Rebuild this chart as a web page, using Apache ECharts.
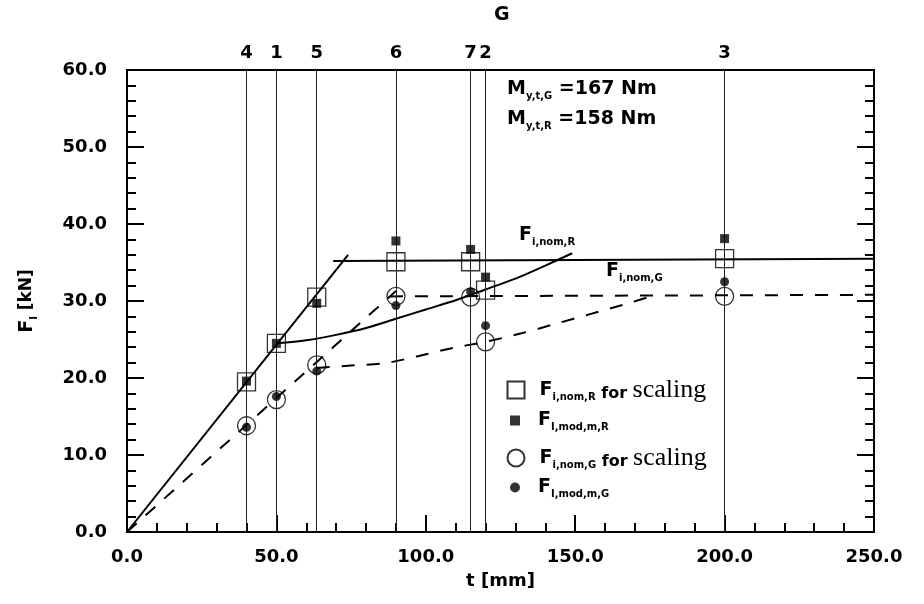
<!DOCTYPE html>
<html>
<head>
<meta charset="utf-8">
<title>F_I vs t</title>
<script src="https://cdn.jsdelivr.net/npm/echarts@6/dist/echarts.min.js"></script>
<style>
  html, body { margin: 0; padding: 0; background: #fff; }
  #chart { width: 924px; height: 604px; }
</style>
</head>
<body>
<div id="chart"></div>
<script>
// measuring positions G (vertical lines) and their labels
const tPos = [40, 50, 63.5, 90, 115, 120, 200];
const tNames = ["4", "1", "5", "6", "7", "2", "3"];

// point values at each position [kN]
const nomR = [19.5, 24.5, 30.5, 35.1, 35.1, 31.4, 35.5];
const modR = [19.6, 24.5, 29.7, 37.8, 36.7, 33.1, 38.1];
const nomG = [13.8, 17.2, 21.7, 30.6, 30.5, 24.7, 30.6];
const modG = [13.6, 17.6, 20.9, 29.4, 31.2, 26.8, 32.5];

// curves [t, F]
const lineRrise = [[0, 0], [74, 36.0]];
const lineRflat = [[69, 35.2], [250, 35.5]];
const lineRbend = [[50, 24.5], [60, 24.9], [70, 25.6], [80, 26.5], [90, 27.7], [100, 28.9],
  [110, 30.1], [120, 31.5], [130, 32.9], [140, 34.6], [149, 36.2]];
const lineGrise = [[0, 0], [90, 31.3]];
const lineGflat = [[88, 30.6], [250, 30.8]];
const lineGbend = [[63.5, 21.3], [74, 21.6], [86, 21.9], [97, 22.8], [109, 23.9], [120, 24.7],
  [132, 25.8], [144, 27.1], [155, 28.3], [166, 29.5], [177, 30.8]];

const SANS = "DejaVu Sans";
const rich = {
  f: { fontFamily: SANS, fontSize: 19, fontWeight: "bold", lineHeight: 24, color: "#000" },
  s: { fontFamily: SANS, fontSize: 10, fontWeight: "bold", lineHeight: 12, verticalAlign: "bottom", color: "#000" },
  w: { fontFamily: SANS, fontSize: 17, fontWeight: "bold", lineHeight: 24, color: "#000" },
  fw: { fontFamily: SANS, fontSize: 16, fontWeight: "bold", lineHeight: 20, verticalAlign: "bottom", color: "#000" },
  sc: { fontFamily: "Liberation Serif", fontSize: 26, lineHeight: 24, color: "#000" },
  g1: { width: 10 },
  g2: { width: 13 },
};

const legendText = {
  nomR: "{g1| }{f|F}{s|i,nom,R}{fw| for }{sc|scaling}",
  modR: "{g2| }{f|F}{s|I,mod,m,R}",
  nomG: "{g1| }{f|F}{s|i,nom,G}{fw| for }{sc|scaling}",
  modG: "{g2| }{f|F}{s|I,mod,m,G}",
};
const legendKeys = ["nomR", "modR", "nomG", "modG"];
const legendSize = [17, 10, 17, 10];
const legendRowY = [389, 423, 457, 490];

function pairs(vals) {
  return tPos.map((t, i) => [t, vals[i]]);
}

function lineSeries(data, dashed, smooth) {
  return {
    type: "line",
    data: data,
    showSymbol: false,
    smooth: smooth ? 0.3 : false,
    silent: true,
    lineStyle: { color: "#000", width: 2, type: dashed ? [13, 12] : "solid" },
    z: 3,
  };
}

const tickFont = { fontFamily: SANS, fontSize: 18, fontWeight: "bold", color: "#000" };

const chart = echarts.init(document.getElementById("chart"));
chart.setOption({
  animation: false,
  backgroundColor: "#fff",
  grid: {
    left: 127, right: 50, top: 70, bottom: 72,
    show: true, borderColor: "#000", borderWidth: 2,
    outerBoundsMode: "none",
  },
  legend: legendKeys.map((k, i) => ({
    data: [k],
    orient: "vertical",
    left: 515 - legendSize[i] / 2,
    top: legendRowY[i] - 12,
    itemWidth: legendSize[i],
    itemHeight: legendSize[i],
    selectedMode: false,
    padding: 0,
    formatter: (name) => legendText[name],
    textStyle: { rich: rich },
  })),
  xAxis: {
    type: "value",
    min: 0, max: 250, interval: 50,
    name: "t [mm]",
    nameLocation: "middle",
    nameGap: 40,
    nameTextStyle: { fontFamily: SANS, fontSize: 18, fontWeight: "bold", color: "#000" },
    axisLine: { show: false },
    axisTick: { inside: true, length: 17, lineStyle: { color: "#000", width: 2 } },
    minorTick: { show: true, splitNumber: 5, length: 9, lineStyle: { color: "#000", width: 2 } },
    splitLine: { show: false },
    axisLabel: Object.assign({ margin: 16, formatter: (v) => v.toFixed(1) }, tickFont),
  },
  yAxis: [
    {
      type: "value",
      min: 0, max: 60, interval: 10,
      name: "{f|F}{s|I}{w| [kN]}",
      nameLocation: "middle",
      nameGap: 88,
      nameTextStyle: { rich: rich },
      axisLine: { show: false },
      axisTick: { inside: true, length: 17, lineStyle: { color: "#000", width: 2 } },
      minorTick: { show: true, splitNumber: 5, length: 9, lineStyle: { color: "#000", width: 2 } },
      splitLine: { show: false },
      axisLabel: Object.assign({ margin: 20, formatter: (v) => v.toFixed(1) }, tickFont),
    },
    {
      type: "value",
      position: "right",
      min: 0, max: 60, interval: 10,
      axisLine: { show: false },
      axisTick: { inside: true, length: 17, lineStyle: { color: "#000", width: 2 } },
      minorTick: { show: true, splitNumber: 5, length: 9, lineStyle: { color: "#000", width: 2 } },
      splitLine: { show: false },
      axisLabel: { show: false },
    },
  ],
  graphic: [
    {
      type: "text", left: 494, top: 6, silent: true,
      style: { text: "G", font: "bold 19px 'DejaVu Sans'", fill: "#000" },
    },
    {
      type: "text", left: 507, top: 80, silent: true,
      style: { text: "{f|M}{s|y,t,G}{f| =167 Nm}", rich: rich },
    },
    {
      type: "text", left: 507, top: 110, silent: true,
      style: { text: "{f|M}{s|y,t,R}{f| =158 Nm}", rich: rich },
    },
    {
      type: "text", left: 519, top: 226, silent: true,
      style: { text: "{f|F}{s|i,nom,R}", rich: rich },
    },
    {
      type: "text", left: 606, top: 262, silent: true,
      style: { text: "{f|F}{s|i,nom,G}", rich: rich },
    },
  ],
  series: [
    lineSeries(lineRrise, false, false),
    lineSeries(lineRflat, false, false),
    lineSeries(lineRbend, false, true),
    lineSeries(lineGrise, true, false),
    lineSeries(lineGflat, true, false),
    lineSeries(lineGbend, true, true),
    {
      name: "nomR",
      type: "scatter",
      data: pairs(nomR),
      symbol: "rect",
      symbolSize: 18,
      itemStyle: { color: "rgba(255,255,255,0)", borderColor: "#000", borderWidth: 1.3 },
      z: 4,
      markLine: {
        silent: true,
        symbol: ["none", "none"],
        lineStyle: { color: "#222", width: 1, type: "solid" },
        label: Object.assign({ show: true, position: "end", distance: 8, formatter: "{b}" }, tickFont),
        data: tPos.map((t, i) => ({ xAxis: t, name: tNames[i] })),
      },
    },
    {
      name: "modR",
      type: "scatter",
      data: pairs(modR),
      symbol: "rect",
      symbolSize: 9,
      itemStyle: { color: "#000" },
      z: 5,
    },
    {
      name: "nomG",
      type: "scatter",
      data: pairs(nomG),
      symbol: "circle",
      symbolSize: 18,
      itemStyle: { color: "rgba(255,255,255,0)", borderColor: "#000", borderWidth: 1.3 },
      z: 4,
    },
    {
      name: "modG",
      type: "scatter",
      data: pairs(modG),
      symbol: "circle",
      symbolSize: 9,
      itemStyle: { color: "#000" },
      z: 5,
    },
  ],
});
</script>
</body>
</html>
